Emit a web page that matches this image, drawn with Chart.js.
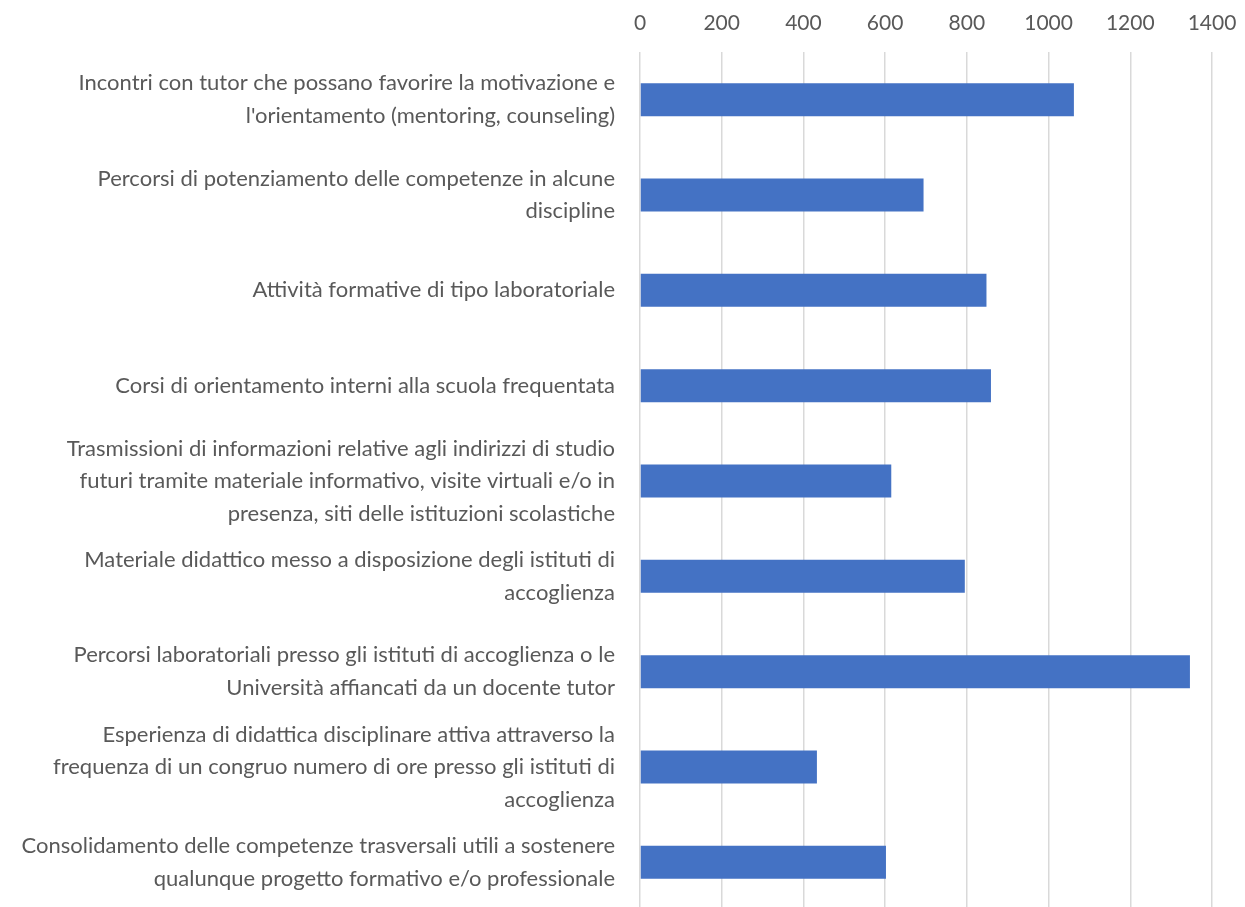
<!DOCTYPE html>
<html>
<head>
<meta charset="utf-8">
<script src="https://cdn.jsdelivr.net/npm/chart.js@4/dist/chart.umd.min.js"></script>
<style>
  html, body { margin: 0; padding: 0; background: #fff; overflow: hidden; }
  #wrap { width: 1245px; height: 907px; overflow: hidden; }
</style>
</head>
<body>
<div id="wrap"><canvas id="chart" width="1245" height="910"></canvas></div>
<script>
const labels = [
    ['Incontri con tutor che possano favorire la motivazione e', "l'orientamento (mentoring, counseling)"],
    ['Percorsi di potenziamento delle competenze in alcune', 'discipline'],
    'Attività formative di tipo laboratoriale',
    'Corsi di orientamento interni alla scuola frequentata',
    ['Trasmissioni di informazioni relative agli indirizzi di studio', 'futuri tramite materiale informativo, visite virtuali e/o in', 'presenza, siti delle istituzioni scolastiche'],
    ['Materiale didattico messo a disposizione degli istituti di', 'accoglienza'],
    ['Percorsi laboratoriali presso gli istituti di accoglienza o le', 'Università affiancati da un docente tutor'],
    ['Esperienza di didattica disciplinare attiva attraverso la', 'frequenza di un congruo numero di ore presso gli istituti di', 'accoglienza'],
    ['Consolidamento delle competenze trasversali utili a sostenere', 'qualunque progetto formativo e/o professionale'],
];
const values = [1062, 694, 848, 859, 615, 795, 1346, 433, 602];
const tickMin = 0;
const tickMax = 1400;
const tickStep = 200;

const ctx = document.getElementById('chart').getContext('2d');

const chart = new Chart(ctx, {
    type: 'bar',
    data: {
        labels: labels,
        datasets: [
            {
                data: values,
                backgroundColor: '#4472C4',
                borderWidth: 0,
                categoryPercentage: 1,
                barPercentage: 0.346,
            },
        ],
    },
    options: {
        indexAxis: 'y',
        responsive: false,
        animation: false,
        layout: { autoPadding: false, padding: { left: 0, right: 33, top: 0, bottom: 0 } },
        scales: {
            x: {
                position: 'top',
                min: tickMin,
                max: tickMax,
                ticks: {
                    stepSize: tickStep,
                    padding: 16,
                    color: '#595959',
                    font: { family: 'Lato', size: 21 },
                    callback: v => String(v),
                },
                grid: { color: '#d9d9d9', lineWidth: 1.5, drawTicks: false },
                border: { display: false },
                afterFit: scale => {
                    scale.height = 52;
                    scale.paddingLeft = 0;
                    scale.paddingRight = 0;
                },
            },
            y: {
                ticks: {
                    autoSkip: false,
                    padding: 17,
                    color: '#595959',
                    font: { family: 'Lato', size: 22, lineHeight: 1.48 },
                },
                grid: { display: false },
                border: { display: false },
                afterFit: scale => {
                    scale.width = 640;
                    scale.paddingTop = 0;
                    scale.paddingBottom = 0;
                },
            },
        },
        plugins: {
            legend: { display: false },
            tooltip: { enabled: false },
        },
    },
});
</script>
</body>
</html>
